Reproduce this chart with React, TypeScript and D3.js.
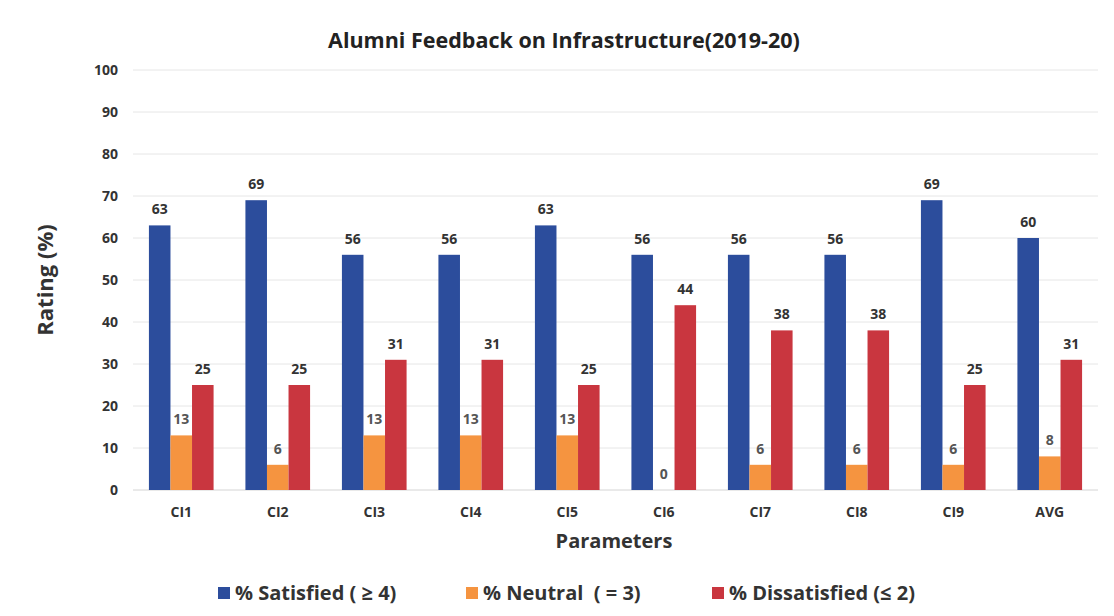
import React, { useRef, useEffect } from "react";
import * as d3 from "d3";

const categories = ["CI1", "CI2", "CI3", "CI4", "CI5", "CI6", "CI7", "CI8", "CI9", "AVG"];
const satisfied = [63, 69, 56, 56, 63, 56, 56, 56, 69, 60];
const neutral = [13, 6, 13, 13, 13, 0, 6, 6, 6, 8];
const dissatisfied = [25, 25, 31, 31, 25, 44, 38, 38, 25, 31];
const seriesNames = ["% Satisfied ( \u2265 4)", "% Neutral  ( = 3)", "% Dissatisfied (\u2264 2)"];
const yTicks = [0, 10, 20, 30, 40, 50, 60, 70, 80, 90, 100];

const colors = ["#2c4d9c", "#f59440", "#c9363f"];
const FONT = "'Open Sans', 'DejaVu Sans', sans-serif";

const App = () => {
  const svgRef = useRef<SVGSVGElement>(null);
  const width = 1114;
  const height = 616;
  const margin = { top: 70, right: 16, bottom: 126, left: 133 };

  useEffect(() => {
    const svg = d3.select(svgRef.current);
    svg.selectAll("*").remove();

    const x = d3
      .scaleBand()
      .domain(categories)
      .range([margin.left, width - margin.right])
      .paddingInner(0.33)
      .paddingOuter(0.165);

    const series = [satisfied, neutral, dissatisfied];
    const x1 = d3
      .scaleBand()
      .domain(d3.range(series.length).map(String))
      .range([0, x.bandwidth()]);

    const y = d3
      .scaleLinear()
      .domain([0, 100])
      .range([height - margin.bottom, margin.top]);

    svg.append("rect").attr("width", width).attr("height", height).attr("fill", "#fff");

    // gridlines
    svg
      .append("g")
      .selectAll("line")
      .data(yTicks)
      .join("line")
      .attr("x1", margin.left)
      .attr("x2", width - margin.right)
      .attr("y1", (d) => y(d))
      .attr("y2", (d) => y(d))
      .attr("stroke", (d) => (d === 0 ? "#d4d4d4" : "#e6e6e6"))
      .attr("stroke-width", 1);

    // y tick labels
    svg
      .append("g")
      .selectAll("text")
      .data(yTicks)
      .join("text")
      .attr("x", 118)
      .attr("y", (d) => y(d))
      .attr("dy", "0.35em")
      .attr("text-anchor", "end")
      .style("font-family", FONT)
      .style("font-size", "14px")
      .style("font-weight", "bold")
      .style("fill", "#333")
      .text((d) => d);

    // bars + labels
    series.forEach((values, si) => {
      const g = svg.append("g");
      g.selectAll("rect")
        .data(values)
        .join("rect")
        .attr("x", (d, i) => x(categories[i])! + x1(String(si))!)
        .attr("y", (d) => y(d))
        .attr("width", x1.bandwidth())
        .attr("height", (d) => y(0) - y(d))
        .attr("fill", colors[si]);

      g.selectAll("text")
        .data(values)
        .join("text")
        .attr("x", (d, i) => x(categories[i])! + x1(String(si))! + x1.bandwidth() / 2)
        .attr("y", (d) => y(d) - 11)
        .attr("text-anchor", "middle")
        .style("font-family", FONT)
        .style("font-size", "14px")
        .style("font-weight", "bold")
        .style("fill", si === 1 ? "#555" : "#333")
        .text((d) => d);
    });

    // x tick labels
    svg
      .append("g")
      .selectAll("text")
      .data(categories)
      .join("text")
      .attr("x", (d) => x(d)! + x.bandwidth() / 2)
      .attr("y", 517)
      .attr("text-anchor", "middle")
      .style("font-family", FONT)
      .style("font-size", "14px")
      .style("font-weight", "bold")
      .style("fill", "#333")
      .text((d) => d);

    // title
    svg
      .append("text")
      .attr("x", 564)
      .attr("y", 48)
      .attr("text-anchor", "middle")
      .style("font-family", FONT)
      .style("font-size", "21.5px")
      .style("font-weight", "bold")
      .style("fill", "#222")
      .text("Alumni Feedback on Infrastructure(2019-20)");

    // axis titles
    svg
      .append("text")
      .attr("transform", "translate(53,280) rotate(-90)")
      .attr("text-anchor", "middle")
      .style("font-family", FONT)
      .style("font-size", "22px")
      .style("font-weight", "bold")
      .style("fill", "#333")
      .text("Rating (%)");

    svg
      .append("text")
      .attr("x", 614)
      .attr("y", 548)
      .attr("text-anchor", "middle")
      .style("font-family", FONT)
      .style("font-size", "20px")
      .style("font-weight", "bold")
      .style("fill", "#333")
      .text("Parameters");

    // legend
    const legendX = [218, 466, 712];
    const legend = svg
      .append("g")
      .selectAll("g")
      .data(seriesNames)
      .join("g")
      .attr("transform", (d, i) => `translate(${legendX[i]},593)`);
    legend
      .append("rect")
      .attr("x", 0)
      .attr("y", -6)
      .attr("width", 12)
      .attr("height", 12)
      .attr("fill", (d, i) => colors[i]);
    legend
      .append("text")
      .attr("x", 17)
      .attr("dy", "0.35em")
      .style("font-family", FONT)
      .style("font-size", "20px")
      .style("font-weight", "bold")
      .style("fill", "#333")
      .style("white-space", "pre")
      .text((d) => d);
  }, []);

  return (
    <svg
      ref={svgRef}
      width={width}
      height={height}
      style={{ position: "absolute", left: 0, top: 0, display: "block" }}
    ></svg>
  );
};

export default App;
